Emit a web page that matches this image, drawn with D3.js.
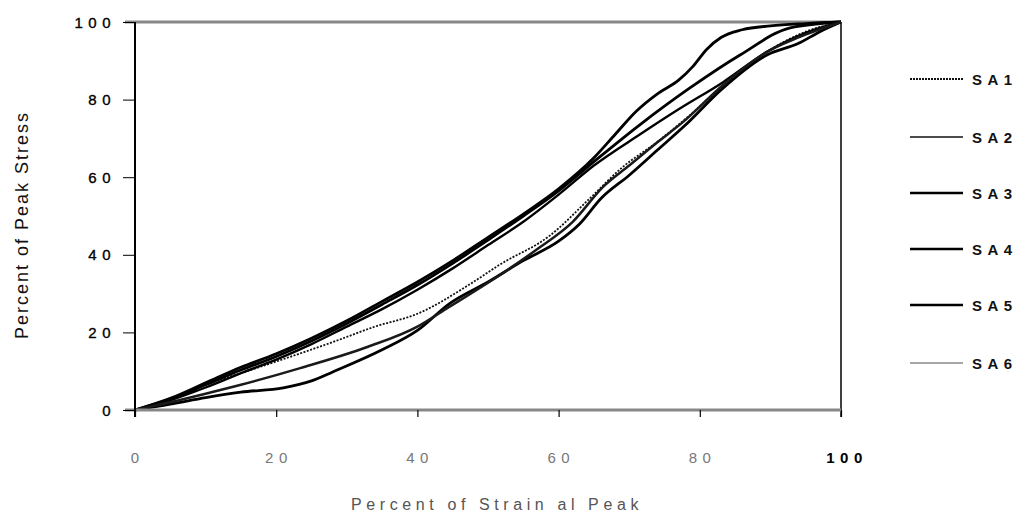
<!DOCTYPE html>
<html><head><meta charset="utf-8">
<script src="https://cdn.jsdelivr.net/npm/d3@7"></script>
<style>
html,body{margin:0;padding:0;background:#fff;}
svg{display:block;font-family:"Liberation Sans",Arial,sans-serif;}
</style></head>
<body>
<svg id="chart" width="1021" height="514"></svg>
<script>
// ---- data ----
const seriesNames = ["SA1","SA2","SA3","SA4","SA5","SA6"];
const xTicks = [0,20,40,60,80,100];
const yTicks = [0,20,40,60,80,100];
const xTitle = "Percent of Strain al Peak";
const yTitle = "Percent of Peak Stress";

const sa1 = [[0,0],[5,2.5],[9,6],[15,9.5],[20,12.5],[28,17.5],[34,21.5],[40,24.8],[47.5,32.5],[51.7,37.5],[58.8,45],[64.4,54.5],[69,62.5],[73.9,69],[78.6,76],[83.9,84.5],[89.5,92.3],[95,97.5],[100,100]];
const sa2 = [[0,0],[5,2.5],[10,5.8],[15,9.5],[20,13],[25,17],[30,21.5],[35,26],[40,31],[45,36.5],[50,42.5],[55,48.5],[60,55.5],[65,63],[71.5,71],[77,77.5],[83.3,84.5],[89.5,92.3],[95,97.2],[100,100]];
const sa3 = [[0,0],[5,3],[10,7],[15,11],[20,14.5],[25,18.5],[30,23],[35,28],[40,33],[45,38.5],[50,44.5],[55,50.5],[60,57],[65,65],[68,71],[71,77],[74,81.5],[77,85],[79,88.5],[81,93],[83,96],[86,98],[90,99],[95,99.6],[100,100]];
const sa4 = [[0,0],[5,2.8],[10,6.5],[15,10.3],[20,13.8],[25,17.8],[30,22.3],[35,27.2],[40,32.2],[45,37.8],[50,43.8],[55,50],[60,56.5],[65,64],[71.5,73.5],[78.6,83],[85.7,91.5],[92.8,98.5],[100,100]];
const sa5 = [[0,0],[5,1.5],[10,3.2],[15,4.6],[21,5.7],[25,7.5],[28,9.8],[35,15.5],[40,20.5],[44.6,27.5],[50,33],[55,38.5],[60,43.5],[63,48],[66,54.5],[70,60.5],[74,67],[78,73.5],[83,82.5],[89.5,91.5],[94,94.5],[97,97.5],[100,100]];
const sa6 = [[0,0],[5,2],[10,4.2],[15,6.5],[23.4,10.8],[33,16.3],[40,21.5],[44,26],[50,32.8],[57,41.5],[62,48.5],[66.3,57.5],[70,63],[74,69],[77.6,74.2],[83.3,83.8],[89.5,92.3],[93.8,95.9],[100,100]];
const seriesData = [sa1,sa2,sa3,sa4,sa5,sa6];

// ---- styles ----
const styles = [
  {color:"#111", width:1.8, dash:"2,1.5"},
  {color:"#000", width:2.4, dash:null},
  {color:"#000", width:2.8, dash:null},
  {color:"#000", width:2.8, dash:null},
  {color:"#000", width:2.8, dash:null},
  {color:"#1a1a1a", width:2.5, dash:null}
];
const legStyles = [
  {color:"#111", width:2, dash:"2,1"},
  {color:"#111", width:1.4, dash:null},
  {color:"#000", width:2.6, dash:null},
  {color:"#000", width:2.6, dash:null},
  {color:"#000", width:2.6, dash:null},
  {color:"#888", width:1.3, dash:null}
];

const svg = d3.select("#chart");
const X0 = 135, X1 = 841, Y0 = 410, Y1 = 22;
const x = d3.scaleLinear().domain([0,100]).range([X0,X1]);
const y = d3.scaleLinear().domain([0,100]).range([Y0,Y1]);

// frame
svg.append("line").attr("x1",X1).attr("x2",X1).attr("y1",Y1).attr("y2",Y0+7).attr("stroke","#000").attr("stroke-width",1.5);
svg.append("line").attr("x1",X0-10).attr("x2",X1).attr("y1",Y1).attr("y2",Y1).attr("stroke","#888").attr("stroke-width",3);

// curves
const line = d3.line().x(d=>x(d[0])).y(d=>y(d[1])).curve(d3.curveMonotoneX);
seriesData.forEach((s,i)=>{
  svg.append("path").datum(s).attr("d",line).attr("fill","none")
    .attr("stroke",styles[i].color).attr("stroke-width",styles[i].width)
    .attr("stroke-dasharray",styles[i].dash).attr("stroke-linejoin","round");
});

// bottom axis (gray)
svg.append("line").attr("x1",X0-10).attr("x2",X1).attr("y1",Y0).attr("y2",Y0).attr("stroke","#888").attr("stroke-width",3);
const xAxis = svg.append("g").attr("transform",`translate(0,${Y0})`)
  .call(d3.axisBottom(x).tickValues(xTicks).tickSize(7).tickFormat(""));
xAxis.select(".domain").remove();
xAxis.selectAll(".tick line").attr("stroke","#000").attr("stroke-width",1.2);

// left axis
const yAxis = svg.append("g").attr("transform",`translate(${X0},0)`)
  .call(d3.axisLeft(y).tickValues(yTicks).tickSize(12).tickFormat(""));
yAxis.select(".domain").remove();
yAxis.selectAll(".tick line").attr("stroke","#000").attr("stroke-width",1);
svg.append("line").attr("x1",X0).attr("x2",X0).attr("y1",Y1).attr("y2",Y0+7).attr("stroke","#000").attr("stroke-width",2);

// y tick labels
svg.append("g").selectAll("text").data(yTicks).join("text")
  .attr("x",116).attr("y",d=>y(d)+5.5).attr("text-anchor","end")
  .attr("font-size",15).attr("letter-spacing","5.5px").attr("fill","#000")
  .attr("stroke","#000").attr("stroke-width",0.35)
  .text(d=>String(d));

// x tick labels
svg.append("g").selectAll("text").data(xTicks).join("text")
  .attr("x",d=>x(d)+ (d===100?6:2.7)).attr("y",463).attr("text-anchor","middle")
  .attr("font-size",15).attr("letter-spacing","5.5px")
  .attr("fill",d=>d===100?"#000":"#777").attr("font-weight",d=>d===100?"bold":"normal")
  .text(d=>String(d));

// titles
svg.append("text").attr("x",497).attr("y",510).attr("text-anchor","middle")
  .attr("font-size",16).attr("letter-spacing","4.6px").attr("fill","#555").text(xTitle);
svg.append("text").attr("transform","translate(28,225) rotate(-90)").attr("text-anchor","middle")
  .attr("font-size",18).attr("letter-spacing","2px").attr("fill","#111").text(yTitle);

// legend
const legY = [79,137,193,249,305,363];
const leg = svg.append("g");
seriesNames.forEach((n,i)=>{
  leg.append("line").attr("x1",910).attr("x2",963).attr("y1",legY[i]).attr("y2",legY[i])
    .attr("stroke",legStyles[i].color).attr("stroke-width",legStyles[i].width)
    .attr("stroke-dasharray",legStyles[i].dash);
  leg.append("text").attr("x",972).attr("y",legY[i]+5.5).attr("font-size",15)
    .attr("font-weight","bold").attr("letter-spacing","5.5px").attr("fill","#111").text(n);
});
</script>
</body></html>
